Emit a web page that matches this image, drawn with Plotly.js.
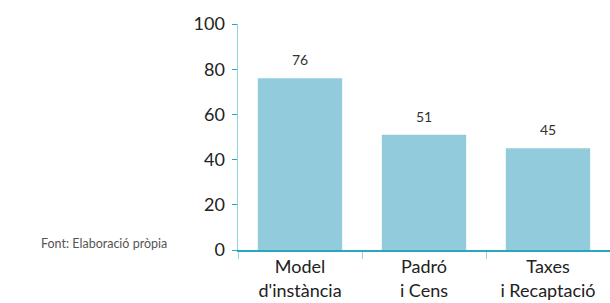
<!DOCTYPE html>
<html><head><meta charset="utf-8">
<script src="https://cdn.plot.ly/plotly-3.0.1.min.js"></script>
<style>html,body{margin:0;padding:0;background:#fff}</style>
</head><body>
<div id="chart" style="width:610px;height:303px"></div>
<script>
const categories = ["Model<br>d'instància", "Padró<br>i Cens", "Taxes<br>i Recaptació"];
const values = [76, 51, 45];
const yTicks = [0, 20, 40, 60, 80, 100];
const sourceNote = "Font: Elaboració pròpia";

const font = "Lato, 'DejaVu Sans', sans-serif";
const data = [{
  type: 'bar', x: categories, y: values,
  marker: {color: '#92cbdb'}, width: 0.68, hoverinfo: 'none'
}];
const annotations = values.map((v, i) => ({
  x: categories[i], y: v, xref: 'x', yref: 'y', text: String(v),
  showarrow: false, yanchor: 'bottom', yshift: 8,
  font: {family: font, size: 14, color: '#333'}
}));
annotations.push({
  xref: 'paper', yref: 'paper', x: (39 - 238) / 372, y: (250 - 243) / 226,
  xanchor: 'left', yanchor: 'middle', text: sourceNote, showarrow: false,
  font: {family: font, size: 12.5, color: '#555'}
});
const layout = {
  width: 610, height: 303,
  margin: {l: 238, r: 0, t: 24, b: 53, pad: 0},
  paper_bgcolor: '#fff', plot_bgcolor: '#fff',
  showlegend: false,
  xaxis: {
    showline: true, linecolor: '#2aa7bf', linewidth: 1.5,
    ticks: 'outside', tickson: 'boundaries', ticklen: 7, tickcolor: '#8fd6e3',
    tickfont: {family: font, size: 18, color: '#222'},
    showgrid: false, zeroline: false, fixedrange: true
  },
  yaxis: {
    range: [0, 100], tickvals: yTicks,
    showline: true, linecolor: '#8fd6e3', linewidth: 1.5,
    ticks: 'outside', ticklen: 5, tickcolor: '#2aa7bf', ticklabelstandoff: 3,
    tickfont: {family: font, size: 18, color: '#222'},
    showgrid: false, zeroline: false, fixedrange: true
  },
  annotations: annotations
};
Plotly.newPlot('chart', data, layout, {displayModeBar: false, staticPlot: true});
</script>
</body></html>
